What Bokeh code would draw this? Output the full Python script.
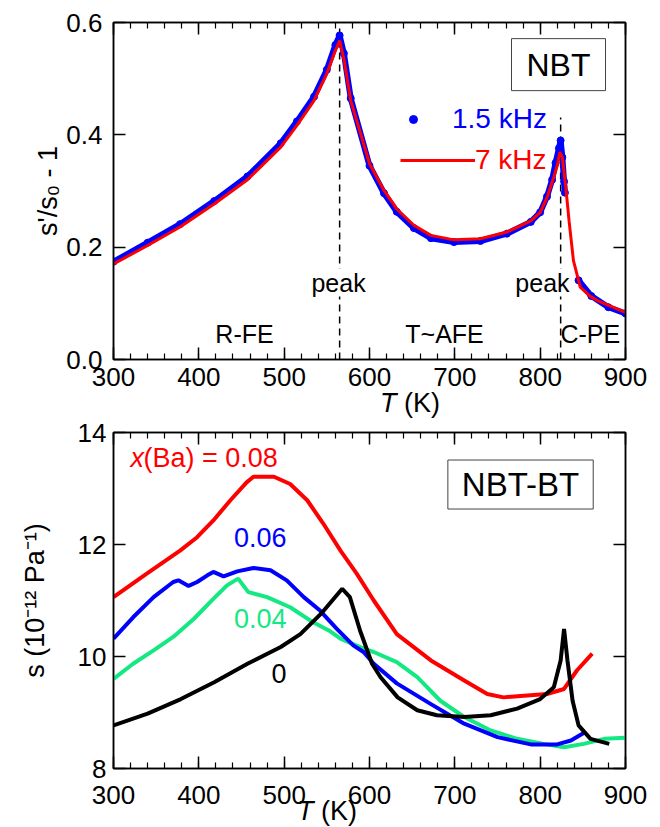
import math
from bokeh.plotting import figure
from bokeh.layouts import column
from bokeh.models import (Label, Legend, LegendItem, LinearAxis, FixedTicker,
                          Range1d, NumeralTickFormatter, Div)
from bokeh.embed import file_html
from bokeh.resources import INLINE

nan = float("nan")
FONT = "Liberation Sans"

# ---------------- data: top panel (NBT) ----------------
T_7k = [300, 340, 378, 418, 457, 496, 515, 535, 550, 560, 565, 570, 578, 600,
        617, 632, 652, 672, 699, 730, 761, 789, 800, 808, 816, 820, 823, 826,
        830, 834, 839, 847, 859, 867, 886, 900]
v_7k = [0.170, 0.203, 0.236, 0.277, 0.320, 0.378, 0.417, 0.461, 0.509, 0.550,
        0.568, 0.535, 0.461, 0.349, 0.301, 0.268, 0.239, 0.221, 0.213, 0.215,
        0.227, 0.247, 0.262, 0.288, 0.325, 0.345, 0.369, 0.360, 0.307, 0.245,
        0.176, 0.129, 0.112, 0.105, 0.093, 0.084]

T_15k = [300, 340, 378, 418, 457, 496, 515, 535, 550, 560, 565, 570, 578, 600,
         617, 632, 652, 672, 699, 730, 761, 789, 800, 808, 814, 818, 822, 824,
         826, 828, 829, nan, 845, 860, 880, 900]
v_15k = [0.174, 0.208, 0.241, 0.282, 0.326, 0.385, 0.424, 0.468, 0.516, 0.560,
         0.577, 0.545, 0.465, 0.345, 0.296, 0.263, 0.234, 0.216, 0.209, 0.211,
         0.224, 0.245, 0.262, 0.290, 0.320, 0.350, 0.376, 0.390, 0.360, 0.317,
         0.297, nan, 0.141, 0.113, 0.093, 0.082]

peak_T = [565, 824]
peak_line_top = [0.59, 0.431]

# ---------------- data: bottom panel (NBT-BT) ----------------
T_x008 = [300, 339, 378, 398, 417, 437, 456, 464, 488, 507, 527, 546, 566, 585,
          605, 632, 672, 711, 738, 757, 781, 808, 828, 843, 861]
s_x008 = [11.06, 11.48, 11.89, 12.13, 12.43, 12.79, 13.11, 13.21, 13.21, 13.08,
          12.79, 12.37, 11.89, 11.48, 11.00, 10.40, 9.93, 9.57, 9.33, 9.27,
          9.30, 9.33, 9.42, 9.75, 10.05]

T_x006 = [300, 323, 347, 370, 376, 388, 398, 410, 417, 429, 445, 464, 484, 503,
          523, 542, 562, 581, 593, 605, 632, 672, 711, 750, 789, 820, 836, 853]
s_x006 = [10.32, 10.70, 11.06, 11.33, 11.36, 11.26, 11.33, 11.45, 11.51, 11.43,
          11.52, 11.58, 11.54, 11.36, 11.06, 10.82, 10.49, 10.20, 10.08, 9.87,
          9.52, 9.15, 8.80, 8.56, 8.43, 8.43, 8.50, 8.65]

T_x004 = [300, 323, 347, 370, 394, 417, 433, 446, 452, 458, 480, 507, 534, 554,
          566, 593, 605, 632, 656, 683, 711, 742, 773, 804, 828, 851, 875, 900]
s_x004 = [9.60, 9.87, 10.11, 10.35, 10.67, 11.03, 11.27, 11.39, 11.27, 11.15,
          11.06, 10.88, 10.61, 10.45, 10.32, 10.14, 10.08, 9.90, 9.63, 9.21,
          8.92, 8.68, 8.53, 8.44, 8.38, 8.44, 8.53, 8.55]

T_x000 = [300, 340, 379, 418, 457, 496, 519, 543, 568, 577, 589, 603, 613, 633,
          656, 679, 711, 742, 773, 800, 816, 824, 828, 832, 838, 845, 859, 881]
s_x000 = [8.77, 8.98, 9.24, 9.54, 9.87, 10.17, 10.40, 10.76, 11.21, 11.06, 10.46,
          9.87, 9.63, 9.27, 9.04, 8.95, 8.92, 8.95, 9.07, 9.24, 9.45, 9.93, 10.49,
          9.93, 9.21, 8.77, 8.53, 8.44]

x_ticks = [300, 400, 500, 600, 700, 800, 900]
top_y_ticks = [0.0, 0.2, 0.4, 0.6]
bot_y_ticks = [8, 10, 12, 14]

RED = "#ff0000"
BLUE = "#0000ff"
GREEN = "#14e882"
BLACK = "#000000"


def style_axis(ax, label_size, standoff):
    ax.axis_line_color = "black"
    ax.axis_line_width = 1.5
    ax.major_tick_line_color = "black"
    ax.major_tick_line_width = 1.5
    ax.minor_tick_line_color = "black"
    ax.minor_tick_line_width = 1.2
    ax.major_tick_in = 12
    ax.major_tick_out = 0
    ax.minor_tick_in = 6
    ax.minor_tick_out = 0
    ax.major_label_text_font = FONT
    ax.major_label_text_font_size = label_size
    ax.major_label_text_color = "black"
    ax.major_label_standoff = standoff


def make_fig(height, yr, yticks, border_top, border_bottom, x_standoff, y_standoff,
             ylabel, ylabel_standoff):
    p = figure(width=660, height=height, x_range=Range1d(300, 900),
               y_range=Range1d(*yr), output_backend="svg", toolbar_location=None,
               min_border_left=113, min_border_right=35,
               min_border_top=border_top, min_border_bottom=border_bottom)
    p.grid.visible = False
    p.outline_line_color = "black"
    p.outline_line_width = 1.5
    p.background_fill_color = "white"
    p.border_fill_color = None
    xt = FixedTicker(ticks=x_ticks, minor_ticks=list(range(300, 901, 20)))
    yt = FixedTicker(ticks=yticks, minor_ticks=[])
    p.xaxis.ticker = xt
    p.yaxis.ticker = yt
    style_axis(p.xaxis[0], "26px", x_standoff)
    style_axis(p.yaxis[0], "26px", y_standoff)
    yax = p.yaxis[0]
    yax.axis_label = ylabel
    yax.axis_label_text_font = FONT
    yax.axis_label_text_font_size = "27px"
    yax.axis_label_text_font_style = "normal"
    yax.axis_label_text_color = "black"
    yax.axis_label_standoff = ylabel_standoff
    above = LinearAxis(ticker=xt)
    right = LinearAxis(ticker=yt)
    for ax in (above, right):
        style_axis(ax, "0px", 0)
        ax.major_label_text_alpha = 0
    p.add_layout(above, "above")
    p.add_layout(right, "right")
    return p


def lab(p, x, y, text, size, color="black", align="center", baseline="middle",
        style="normal", bg=None, border=None, padding=0):
    l = Label(x=x, y=y, text=text, text_font=FONT, text_font_size=size,
              text_color=color, text_align=align, text_baseline=baseline,
              text_font_style=style, padding=padding)
    if bg is not None:
        l.background_fill_color = bg
    if border is not None:
        l.border_line_color = border
        l.border_line_width = 1
    p.add_layout(l)
    return l


def xlabel_div(height, left, top):
    html = ('<div style="position:relative; left:%dpx; top:%dpx; '
            'font-family:\'Liberation Sans\'; font-size:27px; line-height:27px; '
            'white-space:nowrap; color:black;"><i>T</i> (K)</div>' % (left, top))
    return Div(text=html, width=660, height=height, margin=0,
               styles={"overflow": "visible", "z-index": "10"})


# ---------------- top figure ----------------
p1 = make_fig(396, (0, 0.6), top_y_ticks, 22, 37, 8, 11,
              "s'/s\u2080 - 1", 0)
p1.yaxis[0].formatter = NumeralTickFormatter(format="0.0")

p1.segment(x0=peak_T, y0=[0, 0], x1=peak_T, y1=peak_line_top,
           line_color="black", line_width=1.5, line_dash="7 5")

blue_line = p1.line(T_15k, v_15k, line_color=BLUE, line_width=6)
blue_pts = p1.scatter(T_15k, v_15k, size=7, color=BLUE)
red_line = p1.line(T_7k, v_7k, line_color=RED, line_width=3)

leg1 = Legend(items=[LegendItem(label="1.5 kHz", renderers=[blue_pts])],
              location=(290, 224), glyph_width=20, glyph_height=20,
              label_standoff=29, padding=0, margin=0, spacing=0,
              border_line_color=None, background_fill_alpha=0,
              label_text_color=BLUE, label_text_font=FONT,
              label_text_font_size="28px")
leg2 = Legend(items=[LegendItem(label="7 kHz", renderers=[red_line])],
              location=(287, 183), glyph_width=75, glyph_height=20,
              label_standoff=0, padding=0, margin=0, spacing=0,
              border_line_color=None, background_fill_alpha=0,
              label_text_color=RED, label_text_font=FONT,
              label_text_font_size="28px")
p1.add_layout(leg1)
p1.add_layout(leg2)

lab(p1, 563.7, 0.137, "peak", "25px", bg="white")
lab(p1, 802.7, 0.137, "peak", "25px", bg="white")
lab(p1, 453.5, 0.046, "R-FE", "25px")
lab(p1, 687.9, 0.046, "T~AFE", "25px")
lab(p1, 823.8, 0.046, "C-PE", "25px", align="left")
lab(p1, 821.5, 0.525, "NBT", "32px", bg="white", border="#444444", padding=(15, 8))

div1 = xlabel_div(16, 380, -6)

# ---------------- bottom figure ----------------
p2 = make_fig(405, (8, 14), bot_y_ticks, 20, 49, 17, 7,
              "s (10\u207b\u00b9\u00b2 Pa\u207b\u00b9)", 25)

p2.line(T_x004, s_x004, line_color=GREEN, line_width=4)
p2.line(T_x006, s_x006, line_color=BLUE, line_width=4)
p2.line(T_x008, s_x008, line_color=RED, line_width=4)
p2.line(T_x000, s_x000, line_color=BLACK, line_width=4)

lab(p2, 319.9, 13.536, "x", "27px", color=RED, align="left", style="italic")
lab(p2, 335.2, 13.536, "(Ba) = 0.08", "27px", color=RED, align="left")
lab(p2, 502.7, 12.125, "0.06", "27px", color=BLUE, align="right")
lab(p2, 502.7, 10.679, "0.04", "27px", color=GREEN, align="right")
lab(p2, 502.7, 9.696, "0", "27px", color=BLACK, align="right")
lab(p2, 777.0, 13.071, "NBT-BT", "33px", bg="white", border="#444444", padding=(14, 6))

div2 = xlabel_div(8, 297, -19)

layout = column(p1, div1, p2, div2, spacing=0)
open("out.html", "w").write(file_html(layout, INLINE))
